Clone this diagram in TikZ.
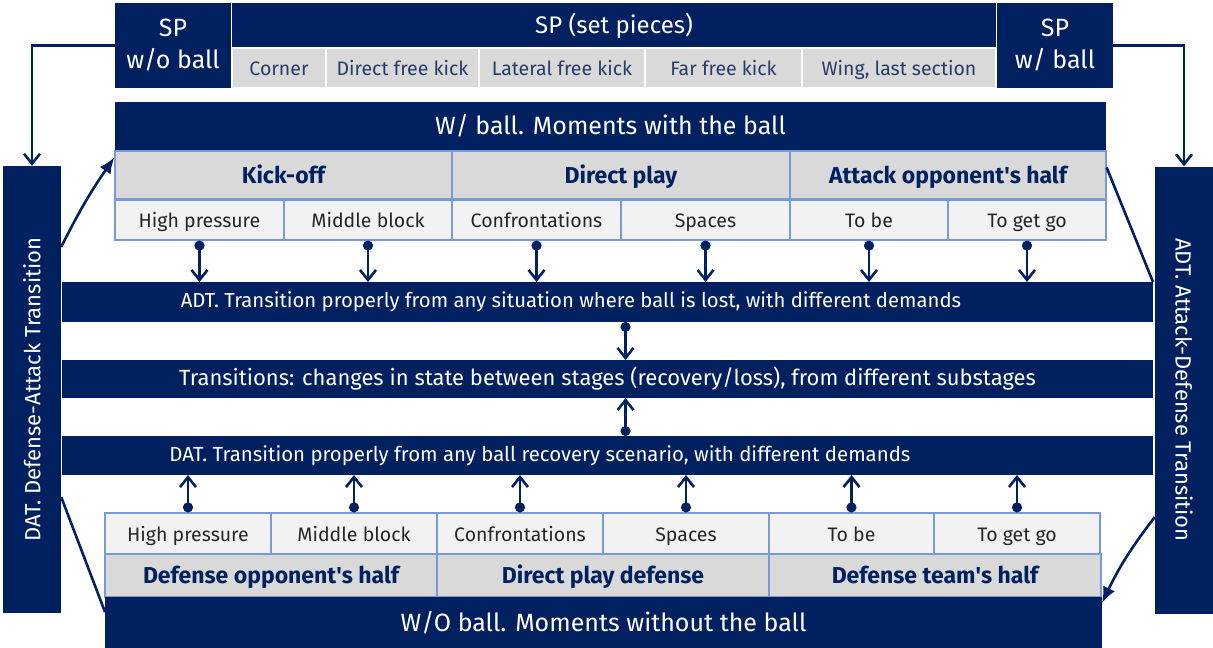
\documentclass[tikz,border=0pt]{standalone}
\usepackage{fontspec}
\setmainfont{Fira Sans}
\usetikzlibrary{positioning,arrows.meta}
\definecolor{navy}{RGB}{0,32,96}
\definecolor{cellgrey}{RGB}{217,217,217}
\definecolor{celllight}{RGB}{242,242,242}
\definecolor{edgeblue}{RGB}{120,155,215}
\definecolor{sptext}{RGB}{40,60,105}
\newcommand{\pxfont}[2]{\fontsize{#1}{#2}\selectfont}

\begin{document}
\begin{tikzpicture}[x=1pt, y=-1pt,
  bar/.style={fill=navy, text=white, inner sep=0pt, outer sep=0pt, font=\pxfont{20}{24}},
  sidebox/.style={fill=navy, text=white, inner sep=0pt, minimum width=58pt, minimum height=447pt, font=\pxfont{22}{24}},
  stage/.style={draw=edgeblue, fill=cellgrey, text=navy, inner sep=0pt, minimum height=48pt, line width=1.2pt, text height=21pt, text depth=5pt, font=\pxfont{23}{26}\bfseries},
  substage/.style={draw=edgeblue, fill=celllight, text=black!85, inner sep=0pt, minimum height=40pt, line width=1.2pt, text height=19pt, text depth=4pt, font=\pxfont{19.5}{22}},
  spcell/.style={draw=white, fill=cellgrey, text=sptext, inner sep=0pt, minimum height=40pt, line width=1.2pt, text height=19pt, text depth=4pt, font=\pxfont{19.5}{22}},
  feed/.style={{Circle[length=10pt]}-{Straight Barb[length=10pt,width=16pt]}, line width=2.6pt, draw=navy},
  drop/.style={-{Straight Barb[length=10pt,width=16pt]}, line width=2.6pt, draw=navy},
  entry/.style={-{Latex[length=16pt,width=13pt]}, line width=2.6pt, draw=navy},
  link/.style={line width=2.6pt, draw=navy}
]
  \useasboundingbox (0,0) rectangle (1213,648);

  % set pieces
  \node[bar, minimum width=116pt, minimum height=85pt, align=center, font=\pxfont{25}{32}] (spwo) at (173,45.5) {SP\\w/o ball};
  \node[bar, minimum width=764pt, minimum height=45pt, font=\pxfont{24}{28}] (sp) at (614,25.5) {SP (set pieces)};
  \node[spcell, minimum width=94pt] (corner) at (279,68) {Corner};
  \node[spcell, minimum width=153pt] (directfk) at (402.5,68) {Direct free kick};
  \node[spcell, minimum width=166pt] (lateralfk) at (562,68) {Lateral free kick};
  \node[spcell, minimum width=157pt] (farfk) at (723.5,68) {Far free kick};
  \node[spcell, minimum width=194pt] (wing) at (899,68) {Wing, last section};
  \node[bar, minimum width=116pt, minimum height=85pt, align=center, font=\pxfont{25}{32}] (spw) at (1055,45.5) {SP\\w/ ball};

  % with the ball
  \node[bar, minimum width=991pt, minimum height=49pt, font=\pxfont{25}{30}] (withball) at (610.5,126) {W/ ball. Moments with the ball};
  \node[stage, minimum width=337pt] (kickoff) at (283.5,175) {Kick-off};
  \node[stage, minimum width=338pt] (directplay) at (621,175) {Direct play};
  \node[stage, minimum width=316pt] (attackhalf) at (948,175) {Attack opponent\textquotesingle s half};
  \node[substage, minimum width=169pt] (hpA) at (199.5,220) {High pressure};
  \node[substage, minimum width=168pt] (mbA) at (368,220) {Middle block};
  \node[substage, minimum width=169pt] (cfA) at (536.5,220) {Confrontations};
  \node[substage, minimum width=169pt] (spA) at (705.5,220) {Spaces};
  \node[substage, minimum width=158pt] (tbA) at (869,220) {To be};
  \node[substage, minimum width=158pt] (tgA) at (1027,220) {To get go};

  % transitions
  \node[bar, minimum width=1091pt, minimum height=40pt] (adtbar) at (607.5,302) {};
  \node[text=white, font=\pxfont{20.3}{24}] (adttext) at ([xshift=-36.5pt]adtbar.center) {ADT. Transition properly from any situation where ball is lost, with different demands};
  \node[bar, minimum width=1091pt, minimum height=38pt, font=\pxfont{22}{24}] (trans) at (607.5,379) {Transitions: changes in state between stages (recovery/loss), from different substages};
  \node[bar, minimum width=1091pt, minimum height=39pt] (datbar) at (607.5,455.5) {};
  \node[text=white, font=\pxfont{20.4}{24}] (dattext) at ([xshift=-67.5pt]datbar.center) {DAT. Transition properly from any ball recovery scenario, with different demands};

  % without the ball
  \node[substage, minimum width=166pt, minimum height=41pt] (hpB) at (188,533.5) {High pressure};
  \node[substage, minimum width=166pt, minimum height=41pt] (mbB) at (354,533.5) {Middle block};
  \node[substage, minimum width=166pt, minimum height=41pt] (cfB) at (520,533.5) {Confrontations};
  \node[substage, minimum width=166pt, minimum height=41pt] (spB) at (686,533.5) {Spaces};
  \node[substage, minimum width=165pt, minimum height=41pt] (tbB) at (851.5,533.5) {To be};
  \node[substage, minimum width=166pt, minimum height=41pt] (tgB) at (1017,533.5) {To get go};
  \node[stage, minimum width=332pt, minimum height=43pt] (defopp) at (271,575.5) {Defense opponent\textquotesingle s half};
  \node[stage, minimum width=332pt, minimum height=43pt] (directdef) at (603,575.5) {Direct play defense};
  \node[stage, minimum width=332pt, minimum height=43pt] (defteam) at (935,575.5) {Defense team\textquotesingle s half};
  \node[bar, minimum width=997pt, minimum height=51pt, font=\pxfont{25}{30}] (withoutball) at (603.5,622.5) {W/O ball. Moments without the ball};

  % side transitions
  \node[sidebox] (dat) at (32,389.5) {\rotatebox{90}{DAT. Defense-Attack Transition}};
  \node[sidebox] (adt) at (1184,390) {\rotatebox{-90}{ADT. Attack-Defense Transition}};

  \draw[drop] (spwo.west) -| (dat.north);
  \draw[drop] (spw.east) -| (adt.north);
  \foreach \c in {hpA,mbA,cfA,spA,tbA,tgA}
    \draw[feed] (\c.south) -- (\c.south |- adtbar.north);
  \foreach \c in {hpB,mbB,cfB,spB,tbB,tgB}
    \draw[feed] (\c.north) -- (\c.north |- datbar.south);
  \draw[feed] ([xshift=18pt]adtbar.south) -- ([xshift=18pt]trans.north);
  \draw[feed] ([xshift=18pt]datbar.north) -- ([xshift=18pt]trans.south);
  \draw[entry] ([yshift=142.5pt]dat.east) to[bend left=4] ([yshift=-7pt]kickoff.north west);
  \draw[link] ([yshift=-107.5pt]dat.east) -- ([yshift=-15pt]withoutball.north west);
  \draw[link] ([yshift=-17pt]attackhalf.north east) -- (adtbar.north east);
  \draw[entry] ([yshift=-127pt]adt.west) to[bend right=6] ([yshift=-6pt]withoutball.north east);
\end{tikzpicture}
\end{document}
